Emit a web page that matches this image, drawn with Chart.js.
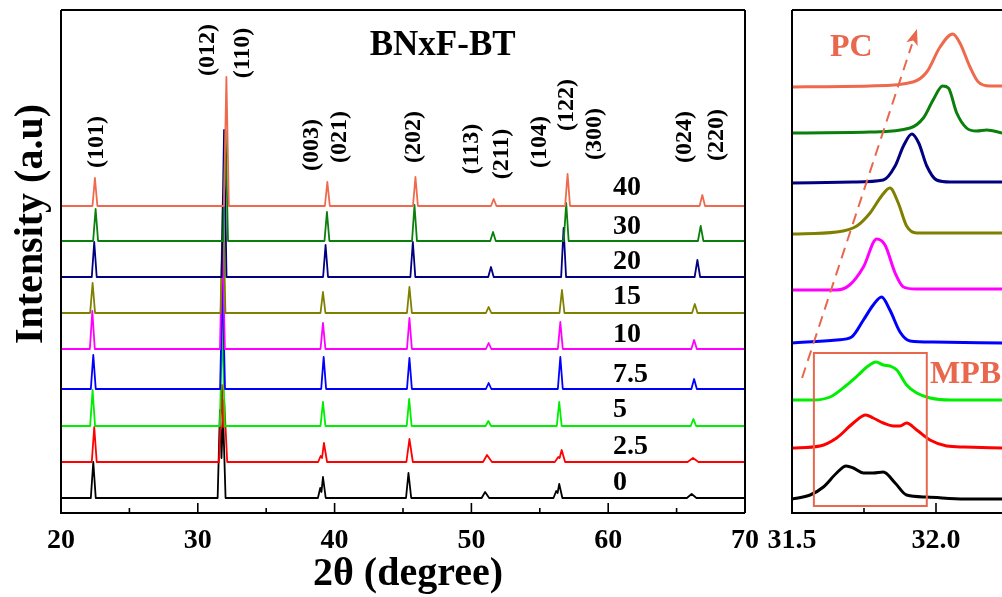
<!DOCTYPE html>
<html><head><meta charset="utf-8">
<script src="https://cdn.jsdelivr.net/npm/chart.js@4.4.1/dist/chart.umd.min.js"></script>
<style>
html,body{margin:0;padding:0;background:#fff;overflow:hidden;width:1002px;height:597px;}
canvas{position:absolute;left:0;top:0;}
</style></head><body>
<canvas id="leftPanel" width="1002" height="597"></canvas>
<canvas id="rightPanel" width="1002" height="597"></canvas>
<script>
// ---- samples (x in BNxF-BT) ----
const sampleLabels = ['0','2.5','5','7.5','10','15','20','30','40'];
const sampleColors = ['#000000','#ff0000','#00ee00','#0000ff','#ff00ff','#808000','#000080','#0b7f0b','#ef6a4d'];
// vertical stacking offsets (a.u.)
const leftOffsets  = [15, 51, 87, 124, 164, 200, 236, 272, 307];
const rightOffsets = [14, 65, 113, 170, 223, 279, 330, 380, 426];

// ---- full scans, 2θ 20–70 (x, intensity above own baseline) ----
const scan0 = [[20,0],[22.18,0],[22.36,36],[22.54,0],[31.45,0],[31.62,88],[31.73,40],[31.85,82],[32.03,0],[38.78,0],[38.95,10],[39.04,6],[39.15,21],[39.35,0],[45.22,0],[45.40,25],[45.60,0],[50.75,0],[51.00,6],[51.30,0],[56.00,0],[56.20,7],[56.30,5],[56.42,14],[56.65,0],[65.75,0],[66.10,4],[66.45,0],[70,0]];
const scan2_5 = [[20,0],[22.25,0],[22.43,35],[22.61,0],[31.55,0],[31.76,77],[31.85,35],[31.93,62],[32.15,0],[38.80,0],[38.98,6],[39.08,4],[39.22,19],[39.45,0],[45.25,0],[45.47,23],[45.72,0],[50.85,0],[51.14,7],[51.50,0],[56.10,0],[56.35,5],[56.45,4],[56.60,12],[56.85,0],[65.80,0],[66.20,4],[66.60,0],[70,0]];
const scan5 = [[20,0],[22.13,0],[22.31,36],[22.49,0],[31.61,0],[31.79,105],[31.97,0],[38.97,0],[39.15,24],[39.33,0],[45.27,0],[45.45,27],[45.63,0],[51.04,0],[51.24,5],[51.44,0],[56.24,0],[56.42,24],[56.60,0],[66.03,0],[66.23,7],[66.43,0],[70,0]];
const scan7_5 = [[20,0],[22.18,0],[22.36,34],[22.54,0],[31.63,0],[31.81,110],[31.99,0],[39.02,0],[39.20,32],[39.38,0],[45.29,0],[45.47,31],[45.65,0],[51.06,0],[51.26,6],[51.46,0],[56.32,0],[56.50,32],[56.68,0],[66.08,0],[66.28,10],[66.48,0],[70,0]];
const scan10 = [[20,0],[22.11,0],[22.29,38],[22.47,0],[31.62,0],[31.80,112],[31.98,0],[38.97,0],[39.15,26],[39.33,0],[45.29,0],[45.47,31],[45.65,0],[51.06,0],[51.26,6],[51.46,0],[56.32,0],[56.50,27],[56.68,0],[66.08,0],[66.28,9],[66.48,0],[70,0]];
const scan15 = [[20,0],[22.13,0],[22.31,30],[22.49,0],[31.66,0],[31.84,118],[32.02,0],[38.97,0],[39.15,21],[39.33,0],[45.29,0],[45.47,26],[45.65,0],[51.06,0],[51.26,6],[51.46,0],[56.44,0],[56.62,23],[56.80,0],[66.13,0],[66.33,9],[66.53,0],[70,0]];
const scan20 = [[20,0],[22.25,0],[22.43,35],[22.61,0],[31.74,0],[31.92,147],[32.10,0],[39.16,0],[39.34,32],[39.52,0],[45.54,0],[45.72,35],[45.90,0],[51.23,0],[51.43,10],[51.63,0],[56.56,0],[56.74,49],[56.92,0],[66.32,0],[66.52,17],[66.72,0],[70,0]];
const scan30 = [[20,0],[22.35,0],[22.53,32],[22.71,0],[31.85,0],[32.03,110],[32.21,0],[39.26,0],[39.44,29],[39.62,0],[45.66,0],[45.84,36],[46.02,0],[51.38,0],[51.58,9],[51.78,0],[56.75,0],[56.93,38],[57.11,0],[66.56,0],[66.76,15],[66.96,0],[70,0]];
const scan40 = [[20,0],[22.30,0],[22.48,28],[22.66,0],[31.91,0],[32.09,129],[32.27,0],[39.29,0],[39.47,24],[39.65,0],[45.73,0],[45.91,29],[46.09,0],[51.43,0],[51.63,7],[51.83,0],[56.85,0],[57.03,32],[57.21,0],[66.68,0],[66.88,11],[67.08,0],[70,0]];

// ---- zoomed (012)/(110) region, 2θ 31.5–32.23 ----
const zoom0 = [[31.5,0],[31.563,4],[31.609,12],[31.655,26],[31.688,33],[31.713,31],[31.748,26],[31.782,26],[31.817,27],[31.858,16],[31.898,4],[31.968,2],[32.1,0],[32.23,0]];
const zoom2_5 = [[31.5,0],[31.597,2],[31.655,10],[31.713,25],[31.756,33],[31.782,30],[31.817,25],[31.852,22],[31.875,22],[31.898,25],[31.933,18],[31.979,8],[32.037,2],[32.1,1],[32.23,0]];
const zoom5 = [[31.5,0],[31.573,0],[31.632,3],[31.69,15],[31.73,25],[31.76,33],[31.792,38],[31.817,35],[31.84,34],[31.864,30],[31.898,15],[31.933,7],[31.98,2],[32.05,0],[32.23,0]];
const zoom7_5 = [[31.5,0],[31.655,3],[31.707,6],[31.748,23],[31.782,38],[31.811,46],[31.84,33],[31.875,11],[31.91,2],[31.99,1],[32.23,0]];
const zoom10 = [[31.5,0],[31.655,0],[31.70,5],[31.748,23],[31.794,51],[31.823,45],[31.858,17],[31.887,3],[31.93,1],[32.23,1]];
const zoom15 = [[31.5,0],[31.655,2],[31.725,8],[31.771,21],[31.811,38],[31.84,46],[31.869,31],[31.898,8],[31.933,1],[32.23,1]];
const zoom20 = [[31.5,0],[31.713,1],[31.817,3],[31.858,17],[31.887,37],[31.916,49],[31.94,40],[31.968,17],[32.002,3],[32.05,1],[32.23,1]];
const zoom30 = [[31.5,0],[31.77,1],[31.91,5],[31.956,15],[31.99,33],[32.023,47],[32.043,45],[32.072,20],[32.106,5],[32.141,2],[32.176,3],[32.23,0]];
const zoom40 = [[31.5,0],[31.77,1],[31.92,5],[31.968,15],[32.014,40],[32.058,53],[32.083,44],[32.118,20],[32.147,5],[32.188,1],[32.23,1]];

const scans = [scan0, scan2_5, scan5, scan7_5, scan10, scan15, scan20, scan30, scan40];
const zooms = [zoom0, zoom2_5, zoom5, zoom7_5, zoom10, zoom15, zoom20, zoom30, zoom40];

// ---- axes ----
const leftMajorTicks = [20, 30, 40, 50, 60, 70];
const leftMinorTicks = [25, 35, 45, 55, 65];
const rightMajorTicks = [31.5, 32.0];
const rightMinorTicks = [31.75, 32.25];

// ---- annotations ----
const hklLabels = ['(101)','(012)','(110)','(003)','(021)','(202)','(113)','(211)','(104)','(122)','(300)','(024)','(220)'];
const hklX = [22.63, 30.75, 33.30, 38.35, 40.39, 45.80, 50.04, 52.24, 55.01, 56.99, 59.04, 65.61, 67.95];
const hklY = [371, 463, 460, 368, 376, 376, 364, 359, 371, 408, 379, 376, 378];
const sampleLabelX = 60.35;
const sampleLabelY = [30, 66, 103, 138, 178, 216, 251, 286, 325];
const arrowStart = [31.535, 135];
const arrowEnd = [31.934, 484];
const mpbBoxX = [31.576, 31.968];
const mpbBoxY = [7, 160];
const annoColor = '#e8674d';

const FONT = '"Liberation Serif", "Times New Roman", serif';

function makeDatasets(list, offsets, width, smooth) {
  const ds = [];
  for (let i = list.length - 1; i >= 0; i--) {
    ds.push({
      label: sampleLabels[i],
      data: list[i].map(p => [p[0], p[1] + offsets[i]]),
      borderColor: sampleColors[i],
      borderWidth: width,
      pointRadius: 0,
      tension: smooth ? 0.4 : 0,
      cubicInterpolationMode: smooth ? 'monotone' : 'default',
      fill: false,
      borderJoinStyle: 'round',
      borderCapStyle: 'round'
    });
  }
  return ds;
}

function drawTicksAndFrame(chart, major, minor, fmt, sides) {
  const ctx = chart.ctx, a = chart.chartArea, xs = chart.scales.x;
  ctx.save();
  ctx.strokeStyle = '#000';
  ctx.lineWidth = 1.6;
  ctx.beginPath();
  major.forEach(v => { const px = xs.getPixelForValue(v); if (px > a.right + 1) return; ctx.moveTo(px, a.bottom); ctx.lineTo(px, a.bottom - 10); });
  minor.forEach(v => { const px = xs.getPixelForValue(v); if (px > a.right + 1) return; ctx.moveTo(px, a.bottom); ctx.lineTo(px, a.bottom - 5); });
  ctx.stroke();
  ctx.lineWidth = 2;
  ctx.beginPath();
  ctx.moveTo(a.left, a.top); ctx.lineTo(a.left, a.bottom); ctx.lineTo(a.right, a.bottom);
  ctx.moveTo(a.left, a.top); ctx.lineTo(a.right, a.top);
  if (sides.right) { ctx.moveTo(a.right, a.top); ctx.lineTo(a.right, a.bottom); }
  ctx.stroke();
  ctx.fillStyle = '#000';
  ctx.font = 'bold 28px ' + FONT;
  ctx.textAlign = 'center';
  ctx.textBaseline = 'middle';
  major.forEach(v => { ctx.fillText(fmt(v), xs.getPixelForValue(v), a.bottom + 28); });
  ctx.restore();
}

const leftDeco = {
  id: 'leftDeco',
  afterDatasetsDraw(chart) {
    const ctx = chart.ctx, a = chart.chartArea, xs = chart.scales.x, ys = chart.scales.y;
    drawTicksAndFrame(chart, leftMajorTicks, leftMinorTicks, v => String(v), {right: true});
    ctx.save();
    ctx.fillStyle = '#000';
    // sample labels
    ctx.font = 'bold 28px ' + FONT;
    ctx.textAlign = 'left'; ctx.textBaseline = 'middle';
    sampleLabels.forEach((s, i) => ctx.fillText(s, xs.getPixelForValue(sampleLabelX), ys.getPixelForValue(sampleLabelY[i])));
    // hkl labels (rotated)
    ctx.font = 'bold 24px ' + FONT;
    ctx.textAlign = 'center';
    hklLabels.forEach((s, i) => {
      ctx.save();
      ctx.translate(xs.getPixelForValue(hklX[i]), ys.getPixelForValue(hklY[i]));
      ctx.rotate(-Math.PI / 2);
      ctx.fillText(s, 0, 0);
      ctx.restore();
    });
    // panel title
    ctx.font = 'bold 35px ' + FONT;
    ctx.fillText('BNxF-BT', xs.getPixelForValue(47.9), ys.getPixelForValue(467));
    // axis titles
    ctx.font = 'bold 40px ' + FONT;
    ctx.fillText('2\u03B8 (degree)', (a.left + a.right) / 2 + 5, a.bottom + 62);
    ctx.save();
    ctx.translate(a.left - 29, a.top + 214);
    ctx.rotate(-Math.PI / 2);
    ctx.fillText('Intensity (a.u)', 0, 0);
    ctx.restore();
    ctx.restore();
  }
};

const rightDeco = {
  id: 'rightDeco',
  afterDatasetsDraw(chart) {
    const ctx = chart.ctx, xs = chart.scales.x, ys = chart.scales.y;
    drawTicksAndFrame(chart, rightMajorTicks, rightMinorTicks, v => v.toFixed(1), {right: false});
    ctx.save();
    ctx.strokeStyle = annoColor; ctx.fillStyle = annoColor;
    // MPB box
    ctx.lineWidth = 2;
    const bx0 = xs.getPixelForValue(mpbBoxX[0]), bx1 = xs.getPixelForValue(mpbBoxX[1]);
    const by0 = ys.getPixelForValue(mpbBoxY[1]), by1 = ys.getPixelForValue(mpbBoxY[0]);
    ctx.strokeRect(bx0, by0, bx1 - bx0, by1 - by0);
    // dashed arrow
    const x0 = xs.getPixelForValue(arrowStart[0]), y0 = ys.getPixelForValue(arrowStart[1]);
    const x1 = xs.getPixelForValue(arrowEnd[0]), y1 = ys.getPixelForValue(arrowEnd[1]);
    const ang = Math.atan2(y1 - y0, x1 - x0);
    const headLen = 16, headW = 6;
    const hx = x1 - headLen * Math.cos(ang), hy = y1 - headLen * Math.sin(ang);
    ctx.setLineDash([11, 7]);
    ctx.beginPath(); ctx.moveTo(x0, y0); ctx.lineTo(hx, hy); ctx.stroke();
    ctx.setLineDash([]);
    ctx.beginPath();
    ctx.moveTo(x1, y1);
    ctx.lineTo(hx + headW * Math.sin(ang), hy - headW * Math.cos(ang));
    ctx.lineTo(hx + 4 * Math.cos(ang), hy + 4 * Math.sin(ang));
    ctx.lineTo(hx - headW * Math.sin(ang), hy + headW * Math.cos(ang));
    ctx.closePath(); ctx.fill();
    // labels
    ctx.font = 'bold 32px ' + FONT;
    ctx.textAlign = 'left'; ctx.textBaseline = 'middle';
    ctx.fillText('PC', xs.getPixelForValue(31.632), ys.getPixelForValue(465));
    ctx.fillText('MPB', xs.getPixelForValue(31.979), ys.getPixelForValue(138));
    ctx.restore();
  }
};

function baseOptions(xmin, xmax, padding) {
  return {
    responsive: false,
    animation: false,
    devicePixelRatio: 1,
    layout: { padding: padding },
    plugins: { legend: { display: false }, tooltip: { enabled: false }, title: { display: false } },
    scales: {
      x: { type: 'linear', min: xmin, max: xmax, display: false },
      y: { type: 'linear', min: 0, max: 503, display: false }
    }
  };
}

new Chart(document.getElementById('leftPanel'), {
  type: 'line',
  data: { datasets: makeDatasets(scans, leftOffsets, 1.8, false) },
  options: baseOptions(20, 70, { left: 61, top: 10, right: 257, bottom: 84 }),
  plugins: [leftDeco]
});

new Chart(document.getElementById('rightPanel'), {
  type: 'line',
  data: { datasets: makeDatasets(zooms, rightOffsets, 3, true) },
  options: baseOptions(31.5, 31.5 + 210 / 288, { left: 792, top: 10, right: 0, bottom: 84 }),
  plugins: [rightDeco]
});
</script>
</body></html>
